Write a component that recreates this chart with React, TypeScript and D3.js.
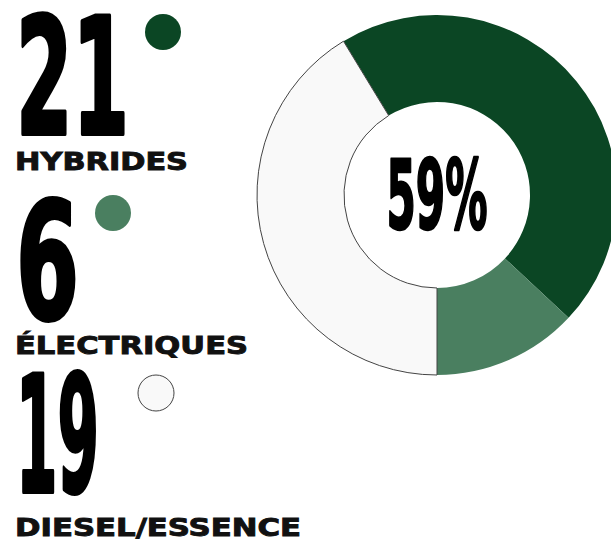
import React from 'react';
import * as d3 from 'd3';

const categories = ['HYBRIDES', 'ÉLECTRIQUES', 'DIESEL/ESSENCE'];
const values = [21, 6, 19];
const colors = ['#0b4624', '#4a7f60', '#f9f9f9'];

const W = 611;
const H = 540;

// left column layout (number baseline, number width, label baseline, label width, dot)
const rows = [
  {numY: 134, numW: 113, labY: 170, labW: 173, dotX: 163, dotY: 32},
  {numY: 319, numW: 63, labY: 354, labW: 233, dotX: 113, dotY: 213},
  {numY: 492, numW: 83, labY: 536, labW: 286, dotX: 156, dotY: 393}
];

const numFont = "'Liberation Sans Narrow', 'DejaVu Sans Condensed', sans-serif";
const labFont = "'DejaVu Sans', 'Open Sans', sans-serif";

export default function App() {
  const total = d3.sum(values);
  const green = values[0] + values[1];
  const pct = Math.round((green / total) * 100);

  const start = Math.PI - (2 * Math.PI * green) / total;
  const pie = d3.pie<number>()
    .sort(null)
    .value(d => d)
    .startAngle(start)
    .endAngle(start + 2 * Math.PI);
  const arcs = pie(values);

  const cx = 437;
  const cy = 195;
  const arc = d3.arc<d3.PieArcDatum<number>>()
    .innerRadius(93)
    .outerRadius(180);

  return (
    <svg width={W} height={H} style={{position: 'absolute', left: 0, top: 0}}>
      <rect width={W} height={H} fill="#fff" />
      <g transform={`translate(${cx},${cy})`}>
        {arcs.map((a, i) => (
          <path
            key={i}
            d={arc(a) || ''}
            fill={colors[i]}
            stroke={i === 2 ? '#444' : 'none'}
            strokeWidth={i === 2 ? 1 : 0}
          />
        ))}
        <text
          x={0}
          y={34}
          textAnchor="middle"
          fontFamily={numFont}
          fontWeight="bold"
          fontSize={96}
          textLength={101}
          lengthAdjust="spacingAndGlyphs"
          fill="#000"
          stroke="#000"
          strokeWidth={2.5}
          strokeLinejoin="round"
        >
          {pct}%
        </text>
      </g>
      {categories.map((c, i) => (
        <g key={c}>
          <text
            x={16}
            y={rows[i].numY}
            fontFamily={numFont}
            fontWeight="bold"
            fontSize={163}
            textLength={rows[i].numW}
            lengthAdjust="spacingAndGlyphs"
            fill="#000"
            stroke="#000"
            strokeWidth={4}
            strokeLinejoin="round"
          >
            {values[i]}
          </text>
          <circle
            cx={rows[i].dotX}
            cy={rows[i].dotY}
            r={18}
            fill={colors[i]}
            stroke={i === 2 ? '#444' : 'none'}
            strokeWidth={1}
          />
          <text
            x={15}
            y={rows[i].labY}
            fontFamily={labFont}
            fontWeight="bold"
            fontSize={24}
            textLength={rows[i].labW}
            lengthAdjust="spacingAndGlyphs"
            fill="#111"
            stroke="#111"
            strokeWidth={0.9}
          >
            {c}
          </text>
        </g>
      ))}
    </svg>
  );
}
